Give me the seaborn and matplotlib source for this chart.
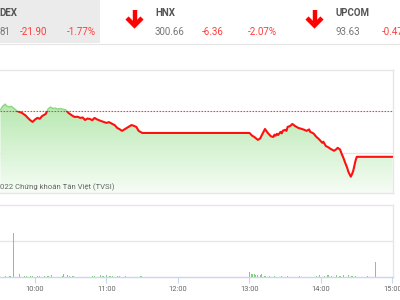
import numpy as np
import pandas as pd
import matplotlib
matplotlib.use("Agg")
import matplotlib.pyplot as plt
import seaborn as sns
from matplotlib.colors import LinearSegmentedColormap
from matplotlib.patches import Rectangle

sns.set_theme(style="white")
plt.rcParams['font.family'] = ['Roboto', 'DejaVu Sans']

# ---------------- data ----------------
ref_value = 1237.71
index_close = "81"          # visible tail of 1215.81
index_change = "-21.90"
index_pct = "-1.77%"
hnx_value, hnx_change, hnx_pct = "300.66", "-6.36", "-2.07%"
upcom_value, upcom_change = "93.63", "-0.47"

price_times = ["9:31", "9:33", "9:35", "9:36", "9:38", "9:40", "9:42", "9:45", "9:49", "9:52",
               "9:54", "9:56", "9:58", "10:00", "10:02", "10:04", "10:06", "10:09", "10:11", "10:13",
               "10:15", "10:17", "10:19", "10:21", "10:24", "10:26", "10:28", "10:31", "10:33", "10:36",
               "10:38", "10:40", "10:42", "10:44", "10:46", "10:48", "10:50", "10:52", "10:55", "10:57",
               "11:00", "11:02", "11:05", "11:07", "11:09", "11:11", "11:13", "11:15", "11:17", "11:19",
               "11:21", "11:23", "11:25", "11:27", "11:30", "13:00", "13:02", "13:04", "13:07", "13:09",
               "13:10", "13:12", "13:13", "13:15", "13:16", "13:18", "13:20", "13:21", "13:22", "13:23",
               "13:24", "13:26", "13:27", "13:28", "13:30", "13:31", "13:32", "13:34", "13:36", "13:38",
               "13:41", "13:44", "13:46", "13:48", "13:50", "13:51", "13:53", "13:54", "13:56", "13:58",
               "14:00", "14:01", "14:02", "14:04", "14:06", "14:08", "14:10", "14:11", "14:13", "14:14",
               "14:16", "14:17", "14:19", "14:20", "14:22", "14:23", "14:25", "14:26", "14:27", "14:28",
               "14:29", "14:30", "15:00"]
price_values = [1238.2, 1240.1, 1241.0, 1240.2, 1239.6, 1240.0, 1239.1, 1237.7, 1236.8, 1235.6,
                1234.4, 1233.3, 1232.5, 1233.6, 1234.4, 1234.0, 1235.3, 1236.3, 1238.7, 1239.6,
                1238.9, 1239.1, 1238.6, 1238.9, 1238.5, 1238.2, 1236.8, 1235.6, 1234.9, 1234.9,
                1234.4, 1234.6, 1233.4, 1234.1, 1233.9, 1233.3, 1234.4, 1233.7, 1233.0, 1232.6,
                1232.0, 1232.4, 1231.5, 1230.9, 1229.6, 1229.0, 1228.2, 1228.9, 1229.6, 1230.3,
                1231.0, 1230.6, 1230.1, 1228.2, 1227.2, 1227.2, 1226.0, 1225.3, 1223.9, 1224.6,
                1225.8, 1228.0, 1229.1, 1227.5, 1226.8, 1225.6, 1225.3, 1226.4, 1225.9, 1226.8,
                1226.2, 1227.7, 1227.0, 1228.3, 1228.7, 1228.2, 1230.1, 1230.5, 1231.5, 1230.6,
                1229.6, 1229.1, 1228.7, 1228.2, 1228.9, 1227.7, 1227.2, 1226.8, 1225.4, 1224.4,
                1223.2, 1222.5, 1223.0, 1221.0, 1220.4, 1219.6, 1219.0, 1218.7, 1219.5, 1220.1,
                1219.3, 1217.7, 1215.0, 1213.4, 1210.5, 1208.6, 1206.3, 1207.5, 1209.0, 1211.5,
                1214.0, 1215.8, 1215.8]

vol_times = ["9:35", "9:39", "9:42", "9:47", "9:51", "9:53", "9:56", "9:58", "10:02", "10:04",
             "10:08", "10:11", "10:14", "10:23", "10:24", "10:27", "10:29", "10:32", "10:48", "10:50",
             "10:55", "10:57", "11:00", "11:03", "11:05", "11:09", "11:11", "11:16", "11:29",
             "13:00", "13:02", "13:04", "13:05", "13:07", "13:09", "13:10", "13:13", "13:17", "13:21",
             "13:27", "13:32", "13:42", "13:56", "13:59", "14:03", "14:06", "14:09", "14:13", "14:16",
             "14:19", "14:23", "14:26", "14:29", "14:39", "14:46"]
vol_values = [0.3, 0.4, 12.2, 0.8, 0.4, 0.3, 0.4, 0.3, 0.4, 0.3,
              0.3, 0.4, 0.6, 0.4, 0.7, 0.5, 0.4, 0.3, 0.3, 0.4,
              0.5, 0.3, 0.6, 0.4, 0.3, 0.4, 0.3, 0.3, 0.4,
              1.4, 0.9, 0.8, 0.6, 0.6, 0.5, 0.8, 0.4, 0.3, 0.4,
              0.3, 0.3, 0.3, 0.4, 0.5, 0.4, 0.6, 0.4, 0.5, 0.4,
              0.6, 0.5, 0.4, 0.3, 0.3, 4.2]

tick_hours = [10, 11, 12, 13, 14, 15]
tick_labels = ["10:00", "11:00", "12:00", "13:00", "14:00", "15:00"]


def to_hours(s):
    h, m = s.split(":")
    return int(h) + int(m) / 60.0


price = pd.DataFrame({"t": [to_hours(s) for s in price_times], "v": price_values})
vol = pd.DataFrame({"t": [to_hours(s) for s in vol_times], "v": vol_values})

W, H = 400, 300
fig = plt.figure(figsize=(4, 3), dpi=100)
fig.patch.set_facecolor("white")

xmin, xmax = 9.5105, 15.007
ymin, ymax = 1198.5, 1257.3
grid_line_c = "#e6e6e6"

# ---------------- price panel ----------------
ax = fig.add_axes([0, 1 - 193 / H, 393 / W, 123 / H])
ax.set_facecolor("white")
poly = ax.fill_between(price["t"], price["v"], ymin, color="none", lw=0)
grad = np.linspace(0, 1, 256).reshape(-1, 1)
cmap = LinearSegmentedColormap.from_list("g", ["#f6fdf5", "#9fe096"])
im = ax.imshow(grad, extent=[xmin, xmax, ymin, ymax], origin="lower", aspect="auto",
               cmap=cmap, zorder=1)
im.set_clip_path(poly.get_paths()[0], transform=ax.transData)

ax.axhline(1217.7, color=grid_line_c, lw=1.0, zorder=0.5)
ax.axhline(ref_value, color="#ff3b3b", lw=0.8, ls=(0, (1.5, 1.2)), zorder=3)

red_line = sns.lineplot(data=price, x="t", y="v", ax=ax, color="#ff1010", lw=1.5,
                        zorder=4, estimator=None, sort=False).lines[-1]
red_line.set_clip_path(Rectangle((xmin, ymin), xmax - xmin, ref_value - ymin,
                                 transform=ax.transData))
sns.lineplot(data=price, x="t", y="v", ax=ax, color="#8cd784", lw=1.0,
             zorder=3.5, estimator=None, sort=False)
green_line = ax.lines[-1]
green_line.set_clip_path(Rectangle((xmin, ref_value), xmax - xmin, ymax - ref_value,
                                   transform=ax.transData))

ax.set_xlim(xmin, xmax)
ax.set_ylim(ymin, ymax)
ax.set_xticks([])
ax.set_yticks([])
ax.set_xlabel("")
ax.set_ylabel("")
for side in ["top", "right", "bottom"]:
    ax.spines[side].set_visible(True)
    ax.spines[side].set_color(grid_line_c)
    ax.spines[side].set_linewidth(1.0)
ax.spines["left"].set_visible(False)
ax.text(0, 0.05, "022 Chứng khoán Tân Việt (TVSI)", transform=ax.transAxes,
        fontsize=5.6, color="#666666", ha="left", va="center", zorder=6)

# ---------------- volume panel ----------------
vx = fig.add_axes([0, 1 - 277 / H, 393 / W, 72 / H])
vx.set_facecolor("white")
vx.axhline(10, color=grid_line_c, lw=1.0, zorder=0.5)
vx.bar(vol["t"], vol["v"], width=1.3 / 71.5, color="#7fcc7a", lw=0, zorder=2)
vx.set_xlim(xmin, xmax)
vx.set_ylim(0, 20)
vx.set_yticks([])
vx.set_xticks(tick_hours)
vx.set_xticklabels(tick_labels, fontsize=5.4, color="#666666")
vx.tick_params(axis="x", length=4, width=0.8, color="#ccd6eb", pad=2.5, bottom=True)
for side in ["top", "right"]:
    vx.spines[side].set_color(grid_line_c)
    vx.spines[side].set_linewidth(1.0)
vx.spines["left"].set_visible(False)
vx.spines["bottom"].set_color("#ccd6eb")
vx.spines["bottom"].set_linewidth(1.0)

# ---------------- header ----------------
hd = fig.add_axes([0, 0, 1, 1], zorder=5)
hd.set_xlim(0, W)
hd.set_ylim(H, 0)
hd.axis("off")
hd.add_patch(Rectangle((0, 0), 100, 43, color="#ebebeb", lw=0))
hd.plot([0, W], [43.5, 43.5], color="#e4e4e4", lw=0.8)

lab_c = "#555555"
num_c = "#777777"
red_c = "#ff3b3b"
fs = 7.0
hd.text(-1, 13, "DEX", fontsize=fs, fontweight="bold", color=lab_c, va="center", ha="left")
hd.text(-1, 32, index_close, fontsize=fs, color=num_c, va="center", ha="left")
hd.text(20, 32, index_change, fontsize=fs, color=red_c, va="center", ha="left")
hd.text(67, 32, index_pct, fontsize=fs, color=red_c, va="center", ha="left")

hd.text(155, 13, "HNX", fontsize=fs, fontweight="bold", color=lab_c, va="center", ha="left")
hd.text(155, 32, hnx_value, fontsize=fs, color=num_c, va="center", ha="left")
hd.text(202, 32, hnx_change, fontsize=fs, color=red_c, va="center", ha="left")
hd.text(248, 32, hnx_pct, fontsize=fs, color=red_c, va="center", ha="left")

hd.text(335, 13, "UPCOM", fontsize=fs, fontweight="bold", color=lab_c, va="center", ha="left")
hd.text(336, 32, upcom_value, fontsize=fs, color=num_c, va="center", ha="left")
hd.text(382, 32, upcom_change, fontsize=fs, color=red_c, va="center", ha="left")

for cx in (134.5, 314.5):
    hd.plot([cx, cx], [10, 24], color="#ff0000", lw=3.2, solid_capstyle="butt")
    hd.plot([cx - 7.5, cx, cx + 7.5], [18, 25.5, 18], color="#ff0000", lw=3.2,
            solid_capstyle="butt", solid_joinstyle="miter")

fig.savefig("out.png", dpi=100, facecolor="white")
